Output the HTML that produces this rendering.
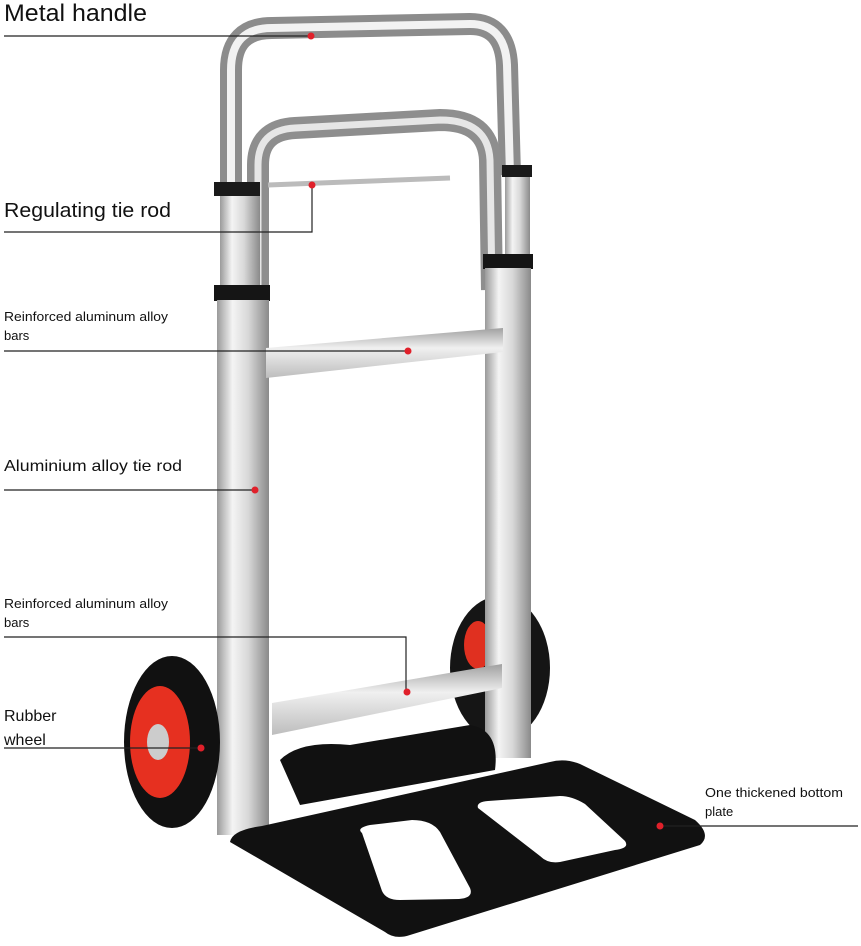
<!DOCTYPE html>
<html><head><meta charset="utf-8"><style>
html,body{margin:0;padding:0;background:#fff;}
svg{display:block}
text{font-family:"Liberation Sans",sans-serif;fill:#111}
</style></head><body>
<svg width="861" height="946" viewBox="0 0 861 946" xmlns="http://www.w3.org/2000/svg">
<defs>
<linearGradient id="al" x1="0" x2="1" y1="0" y2="0">
<stop offset="0" stop-color="#9a9a9a"/><stop offset="0.3" stop-color="#f4f4f4"/><stop offset="0.6" stop-color="#d8d8d8"/><stop offset="1" stop-color="#8a8a8a"/>
</linearGradient>
<linearGradient id="bar" x1="0" x2="0" y1="0" y2="1">
<stop offset="0" stop-color="#a0a0a0"/><stop offset="0.4" stop-color="#f0f0f0"/><stop offset="1" stop-color="#bdbdbd"/>
</linearGradient>
</defs>
<ellipse cx="500" cy="668" rx="50" ry="72" fill="#151515"/>
<ellipse cx="478" cy="645" rx="14" ry="24" fill="#e03020"/>
<path d="M231 190 L231 70 Q231 28 272 28 L470 24 Q505 24 507 65 L510 175" fill="none" stroke="#8c8c8c" stroke-width="22"/>
<path d="M231 190 L231 70 Q231 28 272 28 L470 24 Q505 24 507 65 L510 175" fill="none" stroke="#f2f2f2" stroke-width="8"/>
<path d="M258 290 L258 165 Q258 130 295 128 L440 120 Q488 120 490 160 L492 290" fill="none" stroke="#8e8e8e" stroke-width="22"/>
<path d="M258 290 L258 165 Q258 130 295 128 L440 120 Q488 120 490 160 L492 290" fill="none" stroke="#e6e6e6" stroke-width="7"/>
<line x1="268" y1="185" x2="450" y2="178" stroke="#bbb" stroke-width="5"/>
<rect x="214" y="182" width="46" height="14" fill="#1a1a1a"/>
<rect x="502" y="165" width="30" height="12" fill="#1a1a1a"/>
<rect x="220" y="196" width="40" height="90" fill="url(#al)"/>
<rect x="505" y="177" width="25" height="80" fill="url(#al)"/>
<rect x="214" y="285" width="56" height="16" fill="#151515"/>
<rect x="483" y="254" width="50" height="15" fill="#151515"/>
<rect x="217" y="300" width="52" height="535" fill="url(#al)"/>
<rect x="485" y="268" width="46" height="490" fill="url(#al)"/>
<polygon points="266,348 503,328 503,352 266,378" fill="url(#bar)"/>
<polygon points="272,703 502,664 502,688 272,735" fill="url(#bar)"/>
<path d="M280 760 Q300 740 350 745 L470 725 Q500 730 495 770 L300 805 Z" fill="#111"/>
<path d="M230 842 Q232 830 262 826 L550 762 Q565 758 580 764 L695 820 Q712 835 700 845 L410 935 Q395 940 385 932 Z" fill="#111"/>
<path d="M362 833 Q356 828 370 825 L412 820 Q432 820 440 832 L470 888 Q474 898 459 899 L400 900 Q386 900 382 891 Z" fill="#fff"/>
<path d="M478 808 Q476 802 488 801 L560 796 Q572 796 585 804 L625 841 Q630 848 615 850 L560 862 Q548 864 540 856 Z" fill="#fff"/>
<ellipse cx="172" cy="742" rx="48" ry="86" fill="#111"/>
<ellipse cx="160" cy="742" rx="30" ry="56" fill="#e63020"/>
<ellipse cx="158" cy="742" rx="11" ry="18" fill="#ccc"/>
<g stroke="#222" stroke-width="1.2" fill="none">
<line x1="4" y1="36" x2="311" y2="36"/>
<polyline points="4,232 312,232 312,185"/>
<line x1="4" y1="351" x2="408" y2="351"/>
<line x1="4" y1="490" x2="255" y2="490"/>
<polyline points="4,637 406,637 406,692"/>
<line x1="4" y1="748" x2="201" y2="748"/>
<line x1="660" y1="826" x2="858" y2="826"/>
</g>
<g fill="#e0202a">
<circle cx="311" cy="36" r="3.5"/><circle cx="312" cy="185" r="3.5"/><circle cx="408" cy="351" r="3.5"/>
<circle cx="255" cy="490" r="3.5"/><circle cx="407" cy="692" r="3.5"/><circle cx="201" cy="748" r="3.5"/><circle cx="660" cy="826" r="3.5"/>
</g>
<text x="4" y="21" font-size="24" textLength="143" lengthAdjust="spacingAndGlyphs">Metal handle</text>
<text x="4" y="217" font-size="20" textLength="167" lengthAdjust="spacingAndGlyphs">Regulating tie rod</text>
<text x="4" y="321" font-size="13" textLength="164" lengthAdjust="spacingAndGlyphs">Reinforced aluminum alloy</text>
<text x="4" y="340" font-size="13">bars</text>
<text x="4" y="471" font-size="16" textLength="178" lengthAdjust="spacingAndGlyphs">Aluminium alloy tie rod</text>
<text x="4" y="608" font-size="13" textLength="164" lengthAdjust="spacingAndGlyphs">Reinforced aluminum alloy</text>
<text x="4" y="627" font-size="13">bars</text>
<text x="4" y="721" font-size="16">Rubber</text>
<text x="4" y="745" font-size="16">wheel</text>
<text x="705" y="797" font-size="13" textLength="138" lengthAdjust="spacingAndGlyphs">One thickened bottom</text>
<text x="705" y="816" font-size="13">plate</text>
</svg>
</body></html>
